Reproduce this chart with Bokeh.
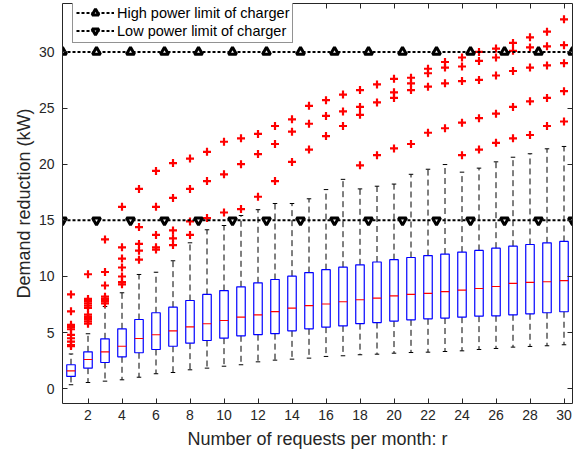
from bokeh.plotting import figure
from bokeh.models import ColumnDataSource, Range1d, LinearAxis, FixedTicker, Legend, LegendItem
from bokeh.embed import file_html
from bokeh.resources import INLINE

# ---------------- data ----------------
r = list(range(1, 31))
lower_whisker = [0.36, 0.56, 0.68, 0.80, 1.03, 1.34, 1.45, 1.69, 1.84, 2.01,
                 2.14, 2.40, 2.55, 2.64, 2.73, 2.88, 2.94, 3.03, 3.08, 3.17,
                 3.23, 3.26, 3.32, 3.38, 3.50, 3.59, 3.71, 3.77, 3.83, 3.92]
q1 = [1.10, 1.84, 2.34, 2.85, 3.21, 3.50, 3.79, 4.06, 4.30, 4.51,
      4.72, 4.82, 4.91, 5.16, 5.34, 5.49, 5.60, 5.80, 5.90, 6.03,
      6.14, 6.23, 6.30, 6.38, 6.47, 6.50, 6.59, 6.68, 6.77, 6.86]
median = [1.60, 2.61, 3.29, 3.79, 4.48, 4.81, 5.16, 5.52, 5.79, 6.08,
          6.38, 6.59, 6.87, 7.18, 7.40, 7.55, 7.75, 7.93, 8.07, 8.28,
          8.40, 8.50, 8.65, 8.78, 8.93, 9.11, 9.38, 9.47, 9.53, 9.64]
q3 = [2.14, 3.29, 4.45, 5.34, 6.17, 6.77, 7.27, 7.86, 8.40, 8.75,
      9.08, 9.44, 9.73, 10.03, 10.35, 10.61, 10.83, 11.04, 11.29, 11.50,
      11.69, 11.86, 12.00, 12.17, 12.32, 12.52, 12.70, 12.85, 13.00, 13.12]
upper_whisker = [3.10, 4.90, 7.33, 8.55, 10.18, 10.38, 11.40, 13.00, 14.16, 14.54,
                 15.43, 15.95, 16.50, 16.50, 16.92, 17.74, 18.65, 17.80, 18.04, 18.23,
                 19.10, 19.55, 19.97, 19.29, 19.65, 20.21, 20.62, 20.93, 21.37, 21.58]
outliers = [
    [8.4, 6.9, 5.7, 5.5, 5.3, 4.8, 4.5, 4.2, 3.9, 3.8],
    [10.2, 8.0, 7.8, 7.6, 7.4, 7.2, 6.6, 6.4, 6.2, 6.0, 5.8],
    [13.3, 10.4, 9.2, 8.2, 8.0, 7.8, 7.6],
    [16.2, 12.6, 11.6, 10.8, 10.0, 9.5, 9.3],
    [17.8, 14.4, 12.9, 12.3, 11.5],
    [19.4, 16.2, 13.7, 12.6, 12.4],
    [20.1, 17.0, 14.1, 13.4, 12.8],
    [20.5, 17.8, 14.9, 13.7],
    [21.1, 18.5, 15.2],
    [22.0, 19.1, 15.7],
    [22.3, 20.0, 16.0],
    [22.7, 20.9, 17.1],
    [23.4, 21.8, 18.5],
    [24.0, 22.9, 20.2],
    [25.2, 23.6, 21.3],
    [25.7, 24.3, 22.5],
    [26.2, 24.7, 23.4],
    [26.6, 25.1, 24.4, 19.9],
    [27.1, 25.5, 20.8],
    [27.6, 26.4, 25.9, 21.4],
    [27.7, 27.2, 26.6, 21.8],
    [28.5, 28.1, 26.9, 22.8],
    [29.1, 28.6, 27.2, 23.2],
    [29.5, 28.7, 27.4, 23.7, 20.8],
    [30.0, 29.2, 27.5, 24.1, 21.3],
    [30.3, 29.5, 27.9, 24.5, 21.9],
    [30.8, 30.1, 28.3, 25.1, 22.3],
    [31.3, 30.4, 28.6, 25.6, 22.6],
    [31.8, 30.5, 28.8, 25.9, 23.4],
    [32.9, 30.6, 29.0, 26.5, 23.8],
]
limit_r = [0.5, 2.5, 4.5, 6.5, 8.5, 10.5, 12.5, 14.5, 16.5, 18.5, 20.5,
           22.5, 24.5, 26.5, 28.5, 30.5]
high_limit = 30
low_limit = 15
x_ticks = [2, 4, 6, 8, 10, 12, 14, 16, 18, 20, 22, 24, 26, 28, 30]
y_ticks = [0, 5, 10, 15, 20, 25, 30]

# ---------------- styles ----------------
BOX_W = 0.5
CAP_PX = 4.5
FONT = "Liberation Sans"
AX_COL = "#262626"

p = figure(width=578, height=451,
           x_range=Range1d(0.5, 30.5), y_range=Range1d(-1.31, 34.31),
           output_backend="svg", toolbar_location=None,
           min_border_left=62, min_border_right=6, min_border_top=3, min_border_bottom=48)
p.grid.visible = False
p.outline_line_color = None
p.background_fill_color = "white"

src = ColumnDataSource(dict(
    r=r, lw=lower_whisker, q1=q1, med=median, q3=q3, uw=upper_whisker,
    ml=[x - BOX_W / 2 for x in r], mr=[x + BOX_W / 2 for x in r],
))

# whiskers (dashed)
p.segment(x0="r", y0="q3", x1="r", y1="uw", source=src, line_color="black",
          line_width=1, line_dash="6 4")
p.segment(x0="r", y0="q1", x1="r", y1="lw", source=src, line_color="black",
          line_width=1, line_dash="6 4")
# caps
p.scatter(x="r", y="uw", source=src, marker="dash", size=CAP_PX,
          line_color="black", line_width=1)
p.scatter(x="r", y="lw", source=src, marker="dash", size=CAP_PX,
          line_color="black", line_width=1)
# boxes
p.vbar(x="r", width=BOX_W, bottom="q1", top="q3", source=src,
       fill_color=None, line_color="#0000FF", line_width=1.2)
# medians
p.segment(x0="ml", y0="med", x1="mr", y1="med", source=src,
          line_color="#FF0000", line_width=1.2)

# outliers
ox, oy = [], []
for x, vals in zip(r, outliers):
    for v in vals:
        ox.append(x)
        oy.append(v)
p.scatter(ox, oy, marker="cross", size=8, line_color="#FF0000", line_width=2.2)

# limits
hi_line = p.line(limit_r, [high_limit] * len(limit_r), line_color="black",
                 line_width=2, line_dash="3 2")
hi_mark = p.scatter(limit_r, [high_limit] * len(limit_r), marker="triangle", size=8,
                    line_color="black", line_width=3, fill_color="white")
lo_line = p.line(limit_r, [low_limit] * len(limit_r), line_color="black",
                 line_width=2, line_dash="3 2")
lo_mark = p.scatter(limit_r, [low_limit] * len(limit_r), marker="inverted_triangle", size=8,
                    line_color="black", line_width=3, fill_color="white")

# axes
def style_axis(ax, labels=True):
    ax.axis_line_color = AX_COL
    ax.major_tick_line_color = AX_COL
    ax.major_tick_in = 5
    ax.major_tick_out = 0
    ax.minor_tick_in = 0
    ax.minor_tick_out = 0
    ax.major_label_text_font = FONT
    ax.major_label_text_color = AX_COL
    if labels:
        ax.major_label_text_font_size = "14px"
    else:
        ax.major_label_text_font_size = "0px"
        ax.major_label_standoff = 0

p.xaxis.ticker = FixedTicker(ticks=x_ticks)
p.yaxis.ticker = FixedTicker(ticks=y_ticks)
style_axis(p.xaxis[0])
style_axis(p.yaxis[0])
p.xaxis.major_label_standoff = 6
p.yaxis.major_label_standoff = 8
p.xaxis.axis_label = "Number of requests per month: r"
p.yaxis.axis_label = "Demand reduction (kW)"
for ax in (p.xaxis[0], p.yaxis[0]):
    ax.axis_label_text_font = FONT
    ax.axis_label_text_font_size = "18px"
    ax.axis_label_text_font_style = "normal"
    ax.axis_label_text_color = AX_COL
p.xaxis.axis_label_standoff = 6
p.yaxis.axis_label_standoff = 2

top_ax = LinearAxis(ticker=FixedTicker(ticks=x_ticks))
style_axis(top_ax, labels=False)
p.add_layout(top_ax, "above")
right_ax = LinearAxis(ticker=FixedTicker(ticks=y_ticks))
style_axis(right_ax, labels=False)
p.add_layout(right_ax, "right")

legend = Legend(items=[
    LegendItem(label="High power limit of charger", renderers=[hi_line, hi_mark]),
    LegendItem(label="Low power limit of charger", renderers=[lo_line, lo_mark]),
], location=(10, 360))
legend.label_text_font = FONT
legend.label_text_font_size = "14.5px"
legend.label_text_color = "black"
legend.glyph_width = 38
legend.glyph_height = 17
legend.label_height = 17
legend.label_standoff = 3
legend.padding = 3
legend.spacing = 1
legend.margin = 0
legend.border_line_color = AX_COL
legend.border_line_width = 1
legend.background_fill_alpha = 1
p.add_layout(legend, "center")

open("out.html", "w").write(file_html(p, INLINE))
